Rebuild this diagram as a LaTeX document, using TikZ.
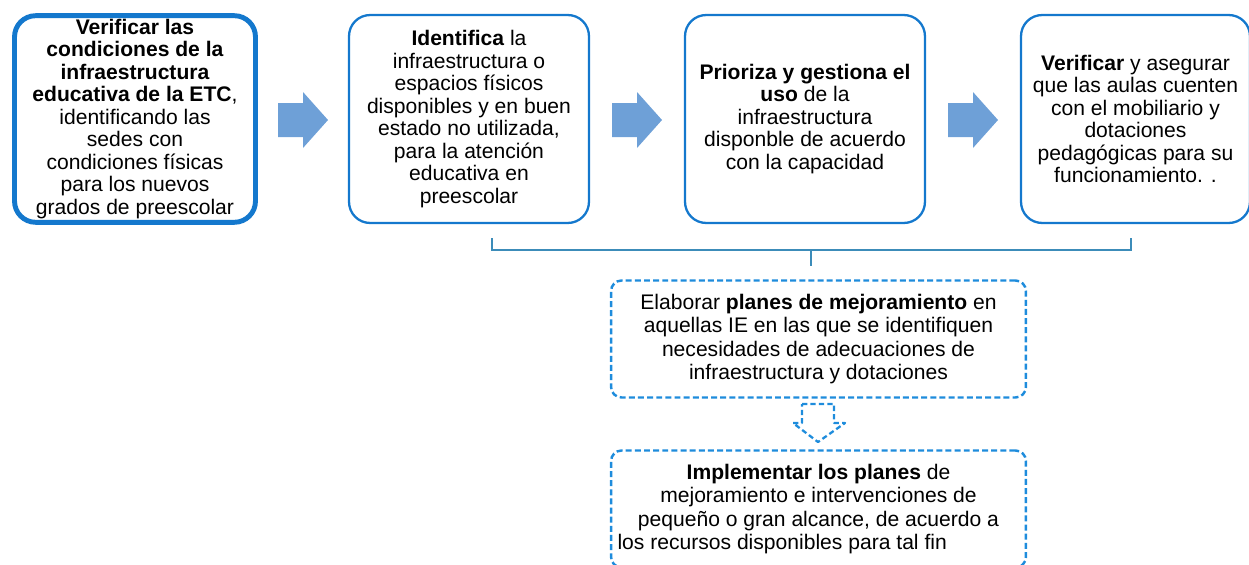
\documentclass[tikz,border=0pt]{standalone}
\usepackage{fontspec}
\setmainfont{Liberation Sans}
\definecolor{boxblue}{RGB}{20,120,205}
\definecolor{arrowblue}{RGB}{110,160,215}
\definecolor{dashblue}{RGB}{30,140,220}
\definecolor{braceblue}{RGB}{60,140,185}
\begin{document}
\begin{tikzpicture}[x=0.02cm,y=-0.02cm,
    every node/.style={font=\fontsize{12}{12.8}\selectfont},
    stepbox/.style={draw=boxblue, line width=1.3pt, rounded corners=12pt,
      fill=white, align=center, minimum width=4.8cm, minimum height=4.16cm, inner sep=2pt},
    planbox/.style={draw=dashblue, line width=1.4pt, dash pattern=on 3.4pt off 1.8pt,
      rounded corners=6pt, align=center, minimum width=8.3cm, minimum height=2.34cm, inner sep=2pt,
      font=\fontsize{12}{13.3}\selectfont}]
  \useasboundingbox (0,0) rectangle (1249,565);
  % pasos
  \node[stepbox, line width=2.8pt, minimum width=4.82cm, minimum height=4.1cm] (ver) at (135,119)
    {\textbf{Verificar las}\\ \textbf{condiciones de la}\\ \textbf{infraestructura}\\
     \textbf{educativa de la ETC},\\ identificando las\\ sedes con\\ condiciones físicas\\
     para los nuevos\\ grados de preescolar};
  \node[stepbox] (ide) at (469,119)
    {\textbf{Identifica} la\\ infraestructura o\\ espacios físicos\\ disponibles y en buen\\
     estado no utilizada,\\ para la atención\\ educativa en\\ preescolar};
  \node[stepbox] (pri) at (805,119)
    {\textbf{Prioriza y gestiona el}\\ \textbf{uso} de la\\ infraestructura\\
     disponble de acuerdo\\ con la capacidad};
  \node[stepbox, minimum width=4.58cm] (ase) at (1135.5,119)
    {\textbf{Verificar} y asegurar\\ que las aulas cuenten\\ con el mobiliario y\\
     dotaciones\\ pedagógicas para su\\ funcionamiento. .};
  % flechas
  \foreach \x in {278,612,948}
    \fill[arrowblue] (\x,103) -- ++(25,0) -- ++(0,-11) -- ++(25,28) -- ++(-25,28)
      -- ++(0,-11) -- ++(-25,0) -- cycle;
  % llave
  \coordinate (bl) at (492,238);
  \coordinate (br) at (1131,238);
  \coordinate (bm) at (811,250);
  \draw[braceblue, line width=0.8pt] (bl) |- (bm) -| (br);
  \draw[braceblue, line width=0.8pt] (bm) -- ++(0,16);
  % planes
  \node[planbox] (ela) at (818.5,339)
    {Elaborar \textbf{planes de mejoramiento} en\\ aquellas IE en las que se identifiquen\\
     necesidades de adecuaciones de\\ infraestructura y dotaciones};
  \node[planbox] (imp) at (818.5,509)
    {\textbf{Implementar los planes} de\\ mejoramiento e intervenciones de\\
     pequeño o gran alcance, de acuerdo a\\ \makebox[8.04cm][l]{los recursos disponibles para tal fin}};
  \draw[dashblue, line width=1.3pt, dash pattern=on 3pt off 1.8pt, line join=round]
    (802,404) -- (834,404) -- (834,423) -- (845,423) -- (818,442) -- (793,423)
    -- (802,423) -- cycle;
\end{tikzpicture}
\end{document}
